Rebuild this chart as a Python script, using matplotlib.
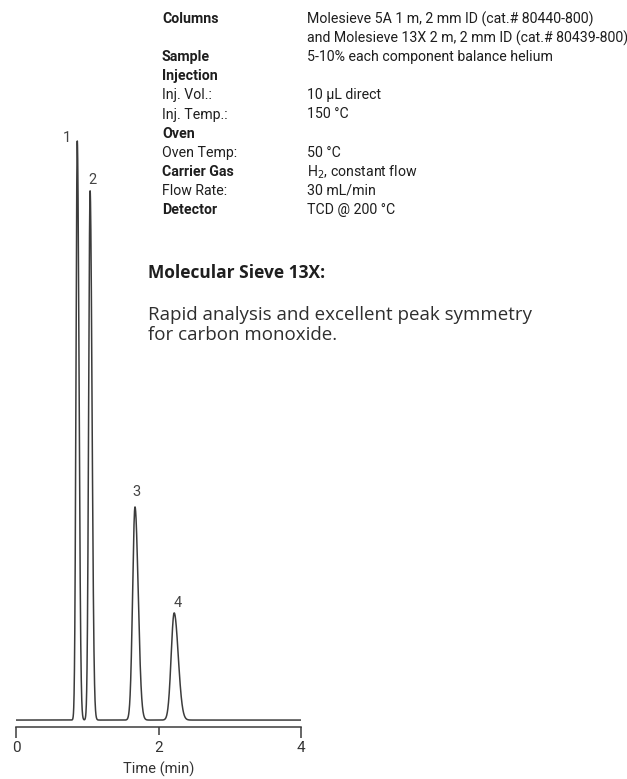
import numpy as np
import matplotlib
matplotlib.use("Agg")
import matplotlib.pyplot as plt

# chromatogram peaks (time in min, height in % of peak 1)
peak_labels = ["1", "2", "3", "4"]
peak_times = [0.86, 1.04, 1.67, 2.22]
peak_heights = [100.0, 91.4, 36.8, 18.5]
peak_sigmas = [0.018, 0.020, 0.033, 0.042]

x_ticks = [0, 2, 4]
x_label = "Time (min)"

cond_labels = ["Columns", "", "Sample", "Injection", "Inj. Vol.:", "Inj. Temp.:",
               "Oven", "Oven Temp:", "Carrier Gas", "Flow Rate:", "Detector"]
cond_bold = [True, False, True, True, False, False, True, False, True, False, True]
cond_values = ["Molesieve 5A 1 m, 2 mm ID (cat.# 80440-800)",
               "and Molesieve 13X 2 m, 2 mm ID (cat.# 80439-800)",
               "5-10% each component balance helium", "",
               "10 µL direct", "150 °C", "", "50 °C",
               "H$_2$, constant flow", "30 mL/min", "TCD @ 200 °C"]

title_text = "Molecular Sieve 13X:"
note_lines = ["Rapid analysis and excellent peak symmetry", "for carbon monoxide."]

W, H = 627, 779
cond_font = ["Liberation Sans Narrow", "Roboto", "DejaVu Sans"]
line_col = "#3c3c3c"


def fx(px):
    return px / W


def fy(py):
    return 1 - py / H


# build the trace from the peak table (slight tailing on the right side)
t = np.linspace(0.01, 4.0, 4000)
signal = np.zeros_like(t)
for rt, h, s in zip(peak_times, peak_heights, peak_sigmas):
    sig = np.where(t < rt, s, s * 1.35)
    signal += h * np.exp(-0.5 * ((t - rt) / sig) ** 2)

fig = plt.figure(figsize=(W / 100, H / 100), dpi=100)
ax = fig.add_axes([fx(16), 52 / H, 285 / W, 597 / H])
ax.plot(t, signal, color=line_col, lw=1.1)
ax.set_xlim(0, 4)
ax.set_ylim(-1.2, 101.9)

for sp in ["top", "right", "left"]:
    ax.spines[sp].set_visible(False)
ax.spines["bottom"].set_color(line_col)
ax.spines["bottom"].set_linewidth(1.1)
ax.set_yticks([])
ax.set_xticks(x_ticks)
ax.set_xticklabels([str(v) for v in x_ticks], family=cond_font, fontsize=11, color="#333333")
ax.tick_params(axis="x", direction="out", length=8, width=1.1, color=line_col, pad=2)
ax.xaxis.get_major_ticks()[1].tick1line.set_markersize(6)
ax.set_xlabel(x_label, family=cond_font, fontsize=10.5, color="#333333", labelpad=5)

# peak numbers (offsets in min / % of peak 1 from the apex)
label_offsets = [(-0.15, 0.5), (0.03, 1.9), (0.015, 2.6), (0.05, 1.8)]
for lab, rt, h, (dx, dy) in zip(peak_labels, peak_times, peak_heights, label_offsets):
    ax.text(rt + dx, h + dy, lab, ha="center", va="center",
            family=cond_font, fontsize=10.5, color="#444444")

# conditions table
for i, (lab, b, val) in enumerate(zip(cond_labels, cond_bold, cond_values)):
    y = fy(19 + i * 19.1)
    if lab:
        fig.text(fx(162), y, lab, family=cond_font, fontsize=10.2,
                 fontweight="bold" if b else "normal", color="#1e1e1e", va="center")
    if val:
        fig.text(fx(307), y, val, family=cond_font, fontsize=10.2, color="#1e1e1e", va="center")

fig.text(fx(148), fy(273), title_text, family="Open Sans", fontsize=12.5,
         fontweight="bold", color="#1e1e1e", va="center")
for i, line in enumerate(note_lines):
    fig.text(fx(148), fy(315 + i * 19.5), line, family="Open Sans", fontsize=13.5,
             color="#2e2e2e", va="center")

fig.savefig("out.png", dpi=100)
